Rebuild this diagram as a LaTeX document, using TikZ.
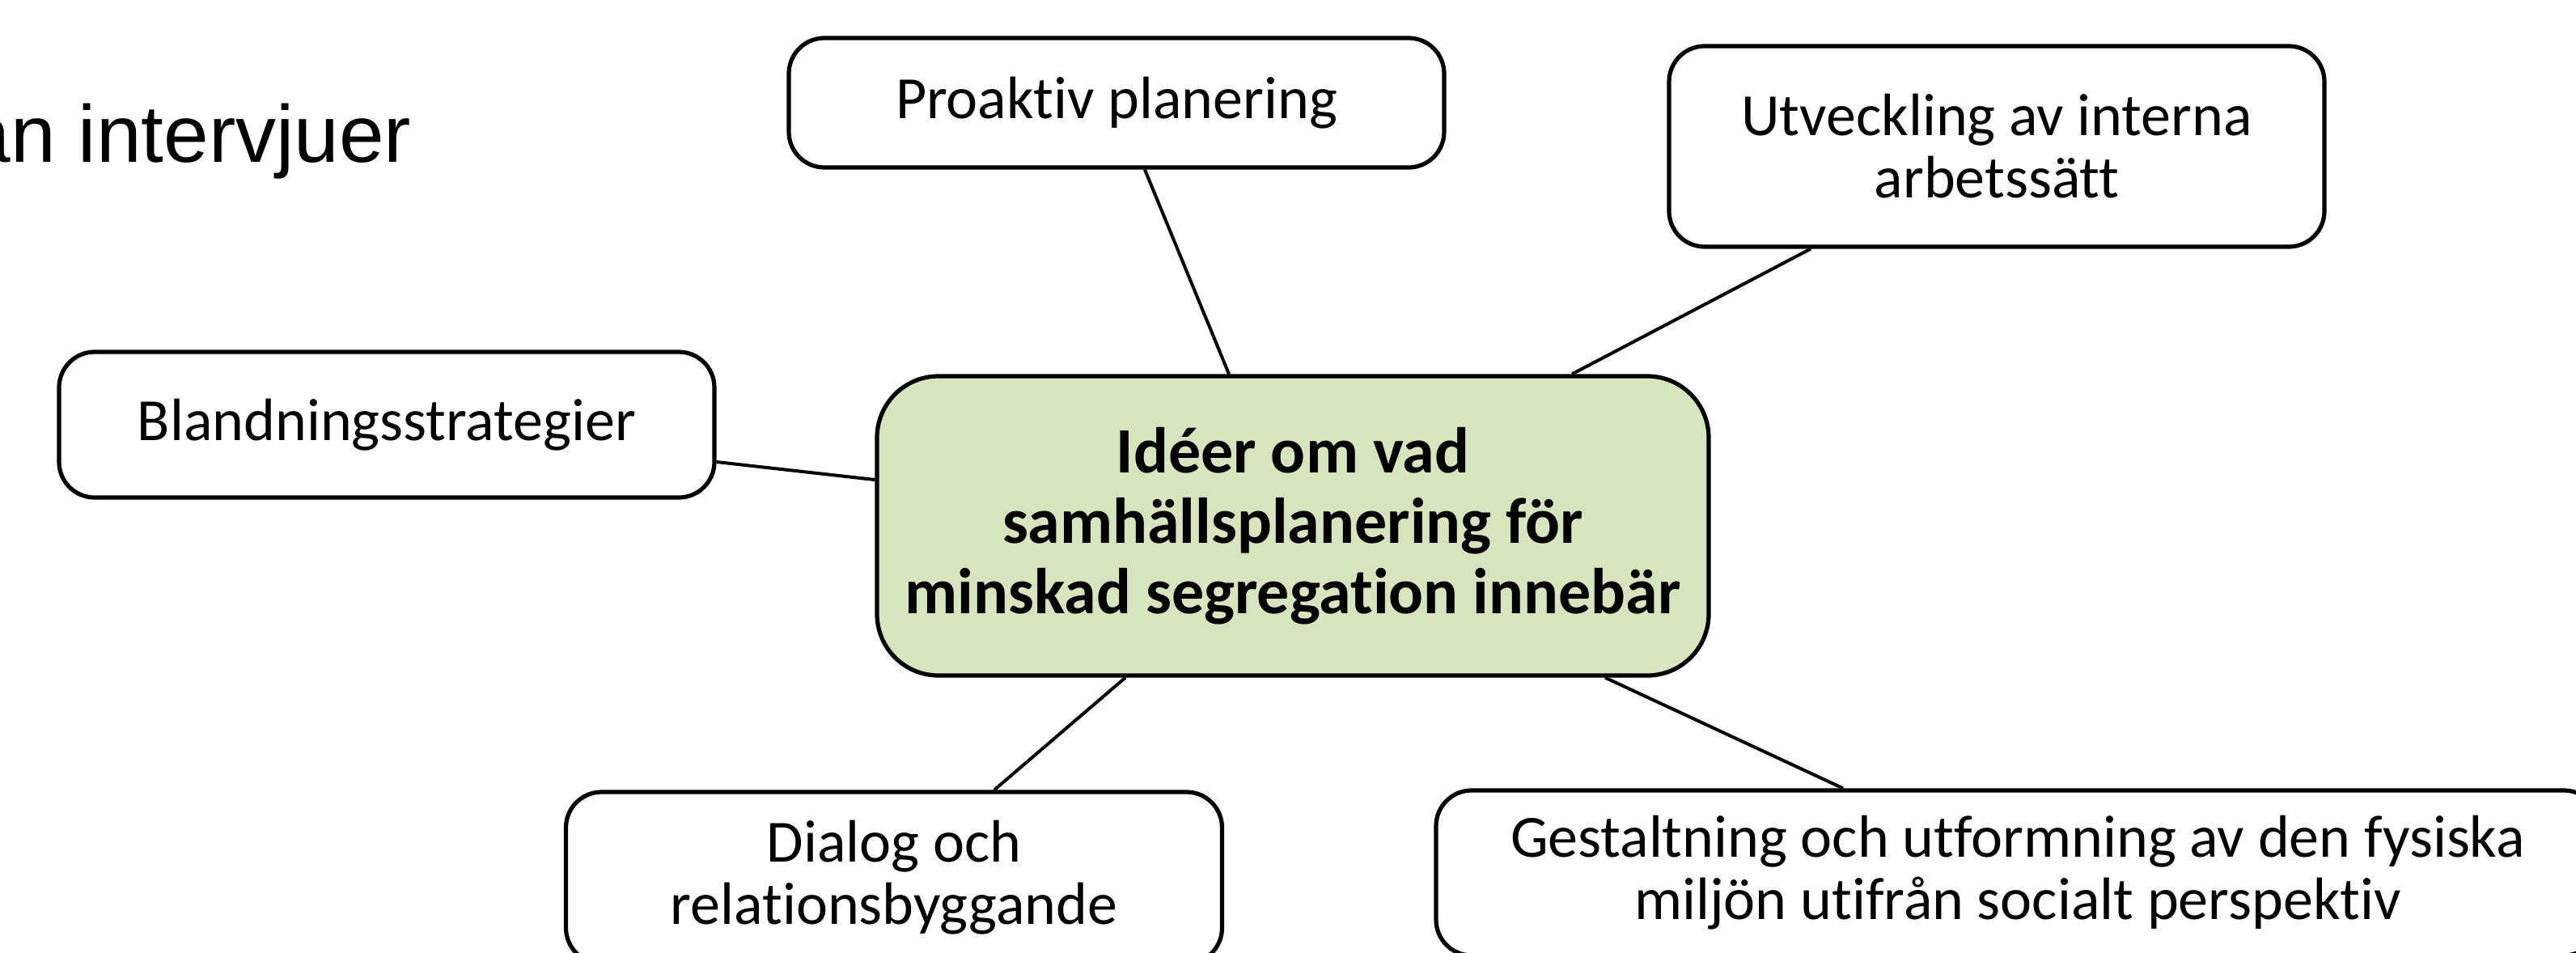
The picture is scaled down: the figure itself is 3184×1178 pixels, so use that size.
\documentclass[tikz,border=0pt]{standalone}
\usepackage{fontspec}
\setmainfont[Ligatures=NoCommon,RawFeature={-liga;-clig;-dlig}]{Carlito}
\newfontfamily\arialfont{Liberation Sans}
\usetikzlibrary{calc}
\definecolor{boxgreen}{RGB}{215,228,189}
\begin{document}
\begin{tikzpicture}[x=0.25pt,y=-0.25pt,
  box/.style={draw=black, line width=1.3pt, rounded corners=11pt, align=center, inner sep=0pt,
    font=\fontsize{18.5}{19.25}\selectfont},
  hub/.style={box, fill=boxgreen, rounded corners=19pt, font=\fontsize{20}{21.75}\selectfont\bfseries},
  link/.style={line width=1pt},
  titletext/.style={inner sep=0pt, anchor=base east, font=\fontsize{25}{30}\arialfont}]
\useasboundingbox (0,0) rectangle (3184,1178);
\node[titletext] (title) at (509,200) {ån intervjuer};
\node[hub, minimum width=257pt, minimum height=92.5pt] (c) at (1598,650)
  {Idéer om vad\\samhällsplanering för\\minskad segregation innebär};
\node[box, minimum width=202.5pt, minimum height=40pt] (p) at (1380,127) {Proaktiv planering};
\node[box, minimum width=202.5pt, minimum height=62pt] (u) at (2468,181) {Utveckling av interna\\arbetssätt};
\node[box, minimum width=202.5pt, minimum height=45pt] (b) at (478,525) {Blandningsstrategier};
\node[box, minimum width=202.75pt, minimum height=53pt] (d) at (1105,1085) {Dialog och\\relationsbyggande};
\node[box, minimum width=359.5pt, minimum height=51pt] (g) at (2494,1079)
  {Gestaltning och utformning av den fysiska\\miljön utifrån socialt perspektiv};
\draw[link] ($(p.south)+(35,0)$) -- ($(c.north)+(-79,0)$);
\draw[link] ($(u.south)+(-230,0)$) -- ($(c.north)+(345,0)$);
\draw[link] ($(b.east)+(0,46)$) -- ($(c.west)+(0,-57)$);
\draw[link] ($(c.south)+(-207,0)$) -- ($(d.north)+(124,0)$);
\draw[link] ($(c.south)+(386,0)$) -- ($(g.north)+(-216,0)$);
\end{tikzpicture}
\end{document}
